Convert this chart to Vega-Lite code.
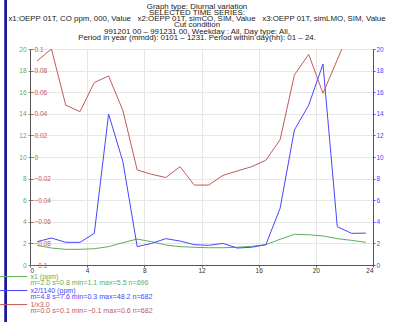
{
  "$schema": "https://vega.github.io/schema/vega-lite/v6.json",
  "width": 343,
  "height": 216,
  "autosize": {"type": "none"},
  "padding": {"left": 30, "top": 49, "right": 20, "bottom": 57},
  "background": "white",
  "config": {
    "font": "Liberation Sans",
    "view": {"stroke": null},
    "axis": {"labelFont": "Liberation Sans", "labelFontSize": 6.5, "titleFontSize": 6.5}
  },
  "title": {
    "text": [
      "Graph type: Diurnal variation",
      "SELECTED TIME SERIES:",
      "x1:OEPP 01T, CO ppm, 000, Value\u00a0\u00a0\u00a0x2:OEPP 01T, simCO, SIM, Value\u00a0\u00a0\u00a0x3:OEPP 01T, simLMO, SIM, Value",
      "Cut condition",
      "991201 00 – 991231 00, Weekday : All, Day type: All,",
      "Period in year (mmdd): 0101 – 1231. Period within day(hh): 01 – 24."
    ],
    "fontSize": 7.9,
    "fontWeight": "normal",
    "lineHeight": 6.3,
    "color": "#222222",
    "anchor": "middle",
    "frame": "group",
    "offset": -43,
    "dx": -4.5
  },
  "data": {
    "values": [
      {"hour": 0.5, "series": "x1", "value": 1.82},
      {"hour": 1.5, "series": "x1", "value": 1.57},
      {"hour": 2.5, "series": "x1", "value": 1.45},
      {"hour": 3.5, "series": "x1", "value": 1.45},
      {"hour": 4.5, "series": "x1", "value": 1.51},
      {"hour": 5.5, "series": "x1", "value": 1.7},
      {"hour": 6.5, "series": "x1", "value": 2.07},
      {"hour": 7.5, "series": "x1", "value": 2.4},
      {"hour": 8.5, "series": "x1", "value": 2.16},
      {"hour": 9.5, "series": "x1", "value": 1.85},
      {"hour": 10.5, "series": "x1", "value": 1.7},
      {"hour": 11.5, "series": "x1", "value": 1.64},
      {"hour": 12.5, "series": "x1", "value": 1.6},
      {"hour": 13.5, "series": "x1", "value": 1.6},
      {"hour": 14.5, "series": "x1", "value": 1.64},
      {"hour": 15.5, "series": "x1", "value": 1.73},
      {"hour": 16.5, "series": "x1", "value": 1.88},
      {"hour": 17.5, "series": "x1", "value": 2.38},
      {"hour": 18.5, "series": "x1", "value": 2.84},
      {"hour": 19.5, "series": "x1", "value": 2.8},
      {"hour": 20.5, "series": "x1", "value": 2.69},
      {"hour": 21.5, "series": "x1", "value": 2.44},
      {"hour": 22.5, "series": "x1", "value": 2.28},
      {"hour": 23.5, "series": "x1", "value": 2.1},
      {"hour": 0.5, "series": "x2", "value": 2.16},
      {"hour": 1.5, "series": "x2", "value": 2.5},
      {"hour": 2.5, "series": "x2", "value": 2.1},
      {"hour": 3.5, "series": "x2", "value": 2.1},
      {"hour": 4.5, "series": "x2", "value": 2.93},
      {"hour": 5.5, "series": "x2", "value": 13.98},
      {"hour": 6.5, "series": "x2", "value": 9.57},
      {"hour": 7.5, "series": "x2", "value": 1.7},
      {"hour": 8.5, "series": "x2", "value": 2.0},
      {"hour": 9.5, "series": "x2", "value": 2.44},
      {"hour": 10.5, "series": "x2", "value": 2.22},
      {"hour": 11.5, "series": "x2", "value": 1.88},
      {"hour": 12.5, "series": "x2", "value": 1.82},
      {"hour": 13.5, "series": "x2", "value": 2.0},
      {"hour": 14.5, "series": "x2", "value": 1.57},
      {"hour": 15.5, "series": "x2", "value": 1.64},
      {"hour": 16.5, "series": "x2", "value": 1.88},
      {"hour": 17.5, "series": "x2", "value": 5.25},
      {"hour": 18.5, "series": "x2", "value": 12.5},
      {"hour": 19.5, "series": "x2", "value": 14.8},
      {"hour": 20.5, "series": "x2", "value": 18.6},
      {"hour": 21.5, "series": "x2", "value": 3.55},
      {"hour": 22.5, "series": "x2", "value": 2.93},
      {"hour": 23.5, "series": "x2", "value": 2.95},
      {"hour": 0.5, "series": "x3", "value": 0.089},
      {"hour": 1.5, "series": "x3", "value": 0.1},
      {"hour": 2.5, "series": "x3", "value": 0.048},
      {"hour": 3.5, "series": "x3", "value": 0.042},
      {"hour": 4.5, "series": "x3", "value": 0.069},
      {"hour": 5.5, "series": "x3", "value": 0.075},
      {"hour": 6.5, "series": "x3", "value": 0.043},
      {"hour": 7.5, "series": "x3", "value": -0.012},
      {"hour": 8.5, "series": "x3", "value": -0.016},
      {"hour": 9.5, "series": "x3", "value": -0.019},
      {"hour": 10.5, "series": "x3", "value": -0.009},
      {"hour": 11.5, "series": "x3", "value": -0.026},
      {"hour": 12.5, "series": "x3", "value": -0.026},
      {"hour": 13.5, "series": "x3", "value": -0.017},
      {"hour": 14.5, "series": "x3", "value": -0.013},
      {"hour": 15.5, "series": "x3", "value": -0.009},
      {"hour": 16.5, "series": "x3", "value": -0.003},
      {"hour": 17.5, "series": "x3", "value": 0.016},
      {"hour": 18.5, "series": "x3", "value": 0.076},
      {"hour": 19.5, "series": "x3", "value": 0.095},
      {"hour": 20.5, "series": "x3", "value": 0.059},
      {"hour": 21.5, "series": "x3", "value": 0.09},
      {"hour": 22.5, "series": "x3", "value": 0.121},
      {"hour": 23.5, "series": "x3", "value": 0.135}
    ]
  },
  "layer": [
    {
      "transform": [{"filter": "datum.series == 'x1'"}],
      "mark": {"type": "line", "strokeWidth": 1, "clip": true},
      "encoding": {
        "x": {
          "field": "hour", "type": "quantitative",
          "scale": {"domain": [0, 24], "nice": false},
          "axis": {
            "title": null, "values": [0, 2, 4, 6, 8, 10, 12, 14, 16, 18, 20, 22, 24],
            "grid": true, "gridColor": "#e6e6e6", "domainColor": "#555555",
            "tickColor": "#555555", "tickSize": 2, "labelPadding": 0,
            "labelColor": "#333333", "labelFontSize": 6.5
          }
        },
        "y": {
          "field": "value", "type": "quantitative",
          "scale": {"domain": [0, 20], "nice": false},
          "axis": {
            "orient": "left", "title": null,
            "values": [0, 2, 4, 6, 8, 10, 12, 14, 16, 18, 20],
            "grid": true, "gridColor": "#e6e6e6", "domainColor": "#555555",
            "tickColor": "#5fa85f", "tickSize": 2, "labelPadding": 2,
            "labelColor": "#5fa85f", "labelFontSize": 6.5
          }
        },
        "color": {
          "field": "series", "type": "nominal",
          "scale": {"domain": ["x1", "x2", "x3"], "range": ["#5cae5c", "#4646ff", "#c05a5a"]},
          "legend": {
            "title": null, "orient": "none", "legendX": -31.7, "legendY": 224,
            "direction": "vertical", "padding": 0, "rowPadding": -1.5,
            "symbolType": "M-1,0H15", "symbolSize": 11.39, "symbolStrokeWidth": 1,
            "symbolFillColor": "transparent",
            "symbolOffset": 0, "labelOffset": 25, "labelFontSize": 7.1,
            "labelFont": "Liberation Sans", "labelLimit": 300,
            "labelExpr": "datum.value == 'x1' ? ['x1 (ppm)', 'm=2.0 s=0.8 min=1.1 max=5.5 n=696'] : datum.value == 'x2' ? ['x2/1140 (ppm)', 'm=4.8 s=7.6 min=0.3 max=48.2 n=682'] : ['1/x3.0', 'm=0.0 s=0.1 min=\u22120.1 max=0.6 n=682']",
            "encode": {
              "labels": {"update": {"fill": {"scale": "color", "field": "value"}, "lineHeight": {"value": 6.6}}}
            }
          }
        }
      }
    },
    {
      "transform": [{"filter": "datum.series == 'x2'"}],
      "mark": {"type": "line", "strokeWidth": 1, "clip": true},
      "encoding": {
        "x": {"field": "hour", "type": "quantitative"},
        "y": {
          "field": "value", "type": "quantitative",
          "scale": {"domain": [0, 20], "nice": false},
          "axis": {
            "orient": "right", "title": null,
            "values": [0, 2, 4, 6, 8, 10, 12, 14, 16, 18, 20],
            "grid": false, "domainColor": "#555555",
            "tickColor": "#4646ff", "tickSize": 2, "labelPadding": 1,
            "labelColor": "#4646ff", "labelFontSize": 6.5
          }
        },
        "color": {"field": "series", "type": "nominal"}
      }
    },
    {
      "transform": [{"filter": "datum.series == 'x3'"}],
      "mark": {"type": "line", "strokeWidth": 1, "clip": true},
      "encoding": {
        "x": {"field": "hour", "type": "quantitative"},
        "y": {
          "field": "value", "type": "quantitative",
          "scale": {"domain": [-0.1, 0.1], "nice": false, "zero": false},
          "axis": {
            "orient": "right", "offset": -343, "title": null,
            "values": [-0.1, -0.08, -0.06, -0.04, -0.02, 0, 0.02, 0.04, 0.06, 0.08, 0.1],
            "format": "~g", "grid": false, "domain": false,
            "tickColor": "#c05a5a", "tickSize": 3, "labelPadding": 1,
            "labelColor": "#c05a5a", "labelFontSize": 6.5
          }
        },
        "color": {"field": "series", "type": "nominal"}
      }
    },
    {
      "mark": {"type": "rule", "stroke": "#1a1aa0", "strokeWidth": 2},
      "encoding": {
        "x": {"datum": -1.68, "type": "quantitative"},
        "y": {"datum": 24.54, "type": "quantitative", "scale": {"domain": [0, 20], "nice": false}, "axis": null},
        "y2": {"datum": -5.4}
      }
    }
  ],
  "resolve": {"scale": {"y": "independent"}}
}
